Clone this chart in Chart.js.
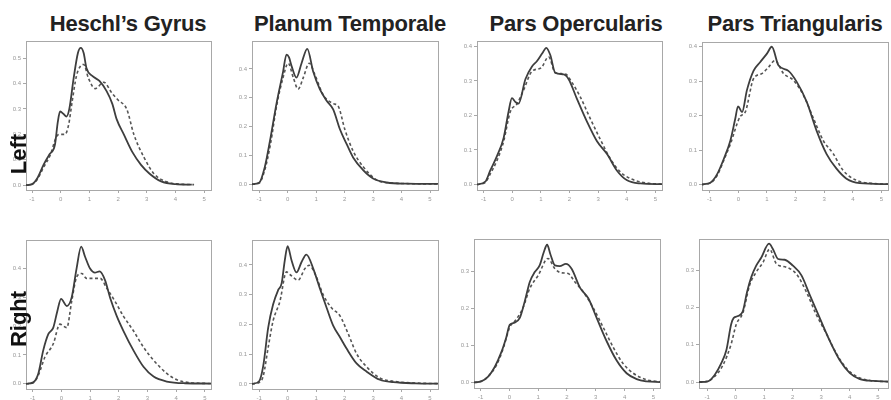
<!DOCTYPE html>
<html>
<head>
<meta charset="utf-8">
<script src="https://cdn.jsdelivr.net/npm/chart.js@4.4.1/dist/chart.umd.min.js"></script>
<style>
  body { margin: 0; background: #fff; }
  #wrap { position: relative; width: 891px; height: 400px; overflow: hidden; font-family: "Liberation Sans", Arial, sans-serif; }
  .panel { position: absolute; }
  .title { position: absolute; top: 13px; transform: translateX(-50%); font-size: 22px; line-height: 22px; font-weight: bold; color: #222; white-space: nowrap; letter-spacing: -0.2px; }
  .row { position: absolute; font-size: 22px; line-height: 22px; font-weight: bold; color: #111; white-space: nowrap; transform: translate(-50%, -50%) rotate(-90deg); z-index: 5; }
</style>
</head>
<body>
<div id="wrap"></div>
<script>
// density curves, [x, y] pairs
let hgLeftSolid = [[-1.21,0],[-1.0,0.004],[-0.8,0.03],[-0.6,0.08],[-0.4,0.12],[-0.2,0.16],[-0.1,0.25],[-0.02,0.29],[0.1,0.28],[0.2,0.27],[0.3,0.3],[0.45,0.42],[0.6,0.52],[0.7,0.54],[0.8,0.52],[0.9,0.46],[1.1,0.43],[1.35,0.41],[1.6,0.37],[1.8,0.32],[1.95,0.26],[2.2,0.2],[2.5,0.13],[2.8,0.08],[3.1,0.045],[3.5,0.015],[4.0,0.004],[4.57,0.002]];
let hgLeftDash = [[-1.21,0],[-1.0,0.003],[-0.83,0.02],[-0.6,0.07],[-0.36,0.12],[-0.15,0.19],[0.0,0.2],[0.15,0.2],[0.28,0.24],[0.4,0.33],[0.55,0.43],[0.7,0.47],[0.8,0.475],[0.97,0.42],[1.2,0.38],[1.5,0.405],[1.8,0.36],[2.0,0.335],[2.3,0.3],[2.55,0.2],[2.9,0.11],[3.25,0.045],[3.7,0.013],[4.2,0.004],[4.65,0.002]];

let planumLeftSolid = [[-1.25,0],[-1.0,0.005],[-0.8,0.06],[-0.62,0.15],[-0.39,0.28],[-0.16,0.39],[-0.04,0.45],[0.05,0.44],[0.14,0.41],[0.31,0.37],[0.49,0.42],[0.69,0.47],[0.9,0.39],[1.13,0.33],[1.37,0.29],[1.6,0.26],[1.84,0.19],[2.07,0.14],[2.3,0.093],[2.66,0.048],[3.0,0.02],[3.48,0.006],[4.2,0.002],[5.28,0.001]];
let planumLeftDash = [[-1.25,0],[-1.0,0.004],[-0.8,0.05],[-0.6,0.14],[-0.39,0.27],[-0.16,0.37],[0.02,0.42],[0.2,0.37],[0.37,0.33],[0.55,0.37],[0.76,0.42],[0.96,0.38],[1.25,0.31],[1.6,0.28],[1.78,0.27],[2.01,0.19],[2.3,0.115],[2.66,0.06],[3.13,0.015],[3.7,0.004],[5.28,0.001]];

let opercLeftSolid = [[-1.23,0],[-0.94,0.008],[-0.77,0.04],[-0.53,0.083],[-0.3,0.135],[-0.13,0.21],[-0.01,0.25],[0.1,0.24],[0.22,0.234],[0.46,0.305],[0.69,0.342],[0.86,0.357],[1.05,0.38],[1.19,0.396],[1.33,0.375],[1.5,0.324],[1.8,0.319],[1.97,0.305],[2.26,0.248],[2.61,0.182],[2.96,0.125],[3.31,0.088],[3.66,0.04],[4.01,0.012],[4.48,0.003],[5.23,0.001]];
let opercLeftDash = [[-1.23,0],[-0.94,0.006],[-0.77,0.03],[-0.53,0.07],[-0.3,0.125],[-0.07,0.21],[0.17,0.234],[0.4,0.274],[0.69,0.328],[1.01,0.338],[1.27,0.37],[1.5,0.324],[1.86,0.32],[2.09,0.295],[2.38,0.253],[2.73,0.19],[3.08,0.13],[3.43,0.074],[3.78,0.036],[4.13,0.017],[4.71,0.004],[5.23,0.001]];

let triLeftSolid = [[-1.27,0],[-0.98,0.005],[-0.74,0.03],[-0.51,0.074],[-0.28,0.127],[-0.11,0.19],[-0.01,0.227],[0.13,0.21],[0.3,0.274],[0.53,0.33],[0.76,0.355],[1.0,0.38],[1.17,0.4],[1.4,0.346],[1.75,0.33],[2.04,0.298],[2.39,0.24],[2.74,0.155],[3.08,0.089],[3.43,0.046],[3.78,0.017],[4.24,0.004],[5.23,0.001]];
let triLeftDash = [[-1.27,0],[-0.98,0.004],[-0.74,0.026],[-0.51,0.07],[-0.28,0.117],[0.07,0.198],[0.24,0.21],[0.53,0.307],[0.82,0.322],[1.05,0.34],[1.28,0.36],[1.58,0.322],[1.92,0.303],[2.27,0.26],[2.62,0.193],[2.97,0.127],[3.32,0.089],[3.66,0.041],[4.13,0.012],[4.71,0.003],[5.23,0.001]];

let hgRightSolid = [[-1.23,0],[-0.98,0.005],[-0.8,0.036],[-0.63,0.116],[-0.45,0.173],[-0.28,0.195],[-0.14,0.252],[-0.01,0.295],[0.19,0.27],[0.36,0.3],[0.53,0.4],[0.69,0.476],[0.83,0.44],[1.0,0.4],[1.17,0.386],[1.33,0.39],[1.52,0.36],[1.7,0.298],[1.93,0.235],[2.16,0.184],[2.51,0.116],[2.86,0.059],[3.21,0.025],[3.67,0.008],[4.3,0.002],[5.21,0.001]];
let hgRightDash = [[-1.23,0],[-0.98,0.004],[-0.8,0.03],[-0.57,0.093],[-0.28,0.139],[-0.05,0.207],[0.19,0.195],[0.36,0.286],[0.53,0.37],[0.71,0.383],[0.88,0.366],[1.35,0.366],[1.58,0.332],[1.87,0.286],[2.16,0.235],[2.51,0.184],[2.86,0.127],[3.21,0.082],[3.67,0.036],[4.02,0.014],[4.49,0.004],[5.21,0.001]];

let planumRightSolid = [[-1.25,0],[-1.0,0.009],[-0.86,0.058],[-0.68,0.19],[-0.51,0.267],[-0.33,0.316],[-0.21,0.338],[-0.1,0.415],[0.0,0.463],[0.14,0.415],[0.31,0.375],[0.49,0.41],[0.66,0.435],[0.9,0.388],[1.13,0.322],[1.37,0.256],[1.6,0.196],[1.84,0.157],[2.07,0.119],[2.42,0.069],[2.77,0.042],[3.24,0.014],[3.71,0.006],[4.5,0.002],[5.28,0.001]];
let planumRightDash = [[-1.25,0],[-1.0,0.005],[-0.86,0.025],[-0.68,0.124],[-0.51,0.212],[-0.27,0.278],[-0.04,0.377],[0.08,0.368],[0.37,0.349],[0.61,0.388],[0.76,0.399],[0.96,0.371],[1.25,0.3],[1.54,0.256],[1.84,0.229],[2.13,0.168],[2.42,0.102],[2.77,0.058],[3.24,0.02],[3.71,0.009],[4.5,0.003],[5.28,0.001]];

let opercRightSolid = [[-1.23,0],[-0.98,0.003],[-0.74,0.016],[-0.51,0.042],[-0.28,0.082],[-0.11,0.122],[0.01,0.156],[0.18,0.162],[0.36,0.175],[0.53,0.219],[0.71,0.273],[0.88,0.299],[1.05,0.317],[1.19,0.352],[1.31,0.373],[1.42,0.348],[1.58,0.317],[1.75,0.315],[1.96,0.321],[2.16,0.308],[2.45,0.257],[2.74,0.228],[3.03,0.175],[3.37,0.113],[3.72,0.06],[4.07,0.025],[4.42,0.009],[4.77,0.003],[5.23,0.001]];
let opercRightDash = [[-1.23,0],[-0.98,0.003],[-0.74,0.016],[-0.45,0.047],[-0.22,0.091],[0.01,0.149],[0.24,0.171],[0.47,0.202],[0.71,0.255],[1.0,0.29],[1.34,0.336],[1.58,0.308],[1.81,0.297],[2.04,0.295],[2.27,0.273],[2.56,0.246],[2.91,0.202],[3.26,0.149],[3.6,0.096],[3.95,0.051],[4.3,0.025],[4.77,0.007],[5.23,0.002]];

let triRightSolid = [[-1.29,0],[-0.98,0.002],[-0.74,0.019],[-0.51,0.05],[-0.33,0.085],[-0.16,0.155],[-0.07,0.172],[0.08,0.177],[0.25,0.19],[0.4,0.242],[0.55,0.282],[0.72,0.312],[0.9,0.334],[1.17,0.371],[1.31,0.356],[1.49,0.33],[1.72,0.328],[2.01,0.312],[2.31,0.286],[2.6,0.234],[2.95,0.172],[3.3,0.111],[3.65,0.059],[4.01,0.024],[4.36,0.008],[4.83,0.003],[5.35,0.001]];
let triRightDash = [[-1.29,0],[-0.98,0.002],[-0.74,0.015],[-0.45,0.045],[-0.16,0.102],[0.02,0.155],[0.25,0.185],[0.49,0.26],[0.72,0.295],[0.96,0.321],[1.19,0.356],[1.43,0.317],[1.78,0.308],[2.13,0.29],[2.48,0.242],[2.83,0.181],[3.19,0.129],[3.54,0.076],[3.89,0.037],[4.25,0.015],[4.71,0.004],[5.35,0.001]];

// tick labels
let xTicks = [-1, 0, 1, 2, 3, 4, 5];
let yTicks5 = [0, 0.1, 0.2, 0.3, 0.4, 0.5];
let yTicks4 = [0, 0.1, 0.2, 0.3, 0.4];
let yTicks3 = [0, 0.1, 0.2, 0.3];

let titles = ["Heschl\u2019s Gyrus", "Planum Temporale", "Pars Opercularis", "Pars Triangularis"];
let rows = ["Left", "Right"];

// box = plot frame in page pixels [left, top, right, bottom]
let panels = [
  {solid: hgLeftSolid, dash: hgLeftDash, box: [26, 39, 211, 190], xr: [-1.21, 5.24], yr: [-0.019, 0.565], yt: yTicks5},
  {solid: planumLeftSolid, dash: planumLeftDash, box: [252, 39, 438, 190], xr: [-1.25, 5.28], yr: [-0.02, 0.495], yt: yTicks4},
  {solid: opercLeftSolid, dash: opercLeftDash, box: [477, 39, 662, 190], xr: [-1.23, 5.23], yr: [-0.016, 0.414], yt: yTicks4},
  {solid: triLeftSolid, dash: triLeftDash, box: [702, 40, 888, 190], xr: [-1.27, 5.23], yr: [-0.016, 0.412], yt: yTicks4},
  {solid: hgRightSolid, dash: hgRightDash, box: [26, 238, 211, 389], xr: [-1.23, 5.21], yr: [-0.018, 0.497], yt: yTicks4},
  {solid: planumRightSolid, dash: planumRightDash, box: [252, 238, 438, 389], xr: [-1.25, 5.28], yr: [-0.017, 0.482], yt: yTicks4},
  {solid: opercRightSolid, dash: opercRightDash, box: [474, 237, 660, 388], xr: [-1.23, 5.23], yr: [-0.015, 0.387], yt: yTicks3},
  {solid: triRightSolid, dash: triRightDash, box: [699, 237, 888, 388], xr: [-1.29, 5.35], yr: [-0.016, 0.382], yt: yTicks3}
];

let wrap = document.getElementById('wrap');
let padL = 24, padT = 3, padR = 3, padB = 14;
let frame = '#a8a8a8';
let tickFont = {family: 'Liberation Sans', size: 6};

for (let p of panels) {
  let [l, t, r, b] = p.box;
  let div = document.createElement('div');
  div.className = 'panel';
  div.style.left = (l - padL) + 'px';
  div.style.top = (t - padT) + 'px';
  div.style.width = (r - l + padL + padR) + 'px';
  div.style.height = (b - t + padT + padB) + 'px';
  let cv = document.createElement('canvas');
  div.appendChild(cv);
  wrap.appendChild(div);

  new Chart(cv, {
    type: 'line',
    data: {
      datasets: [{
        data: p.solid.map(d => ({x: d[0], y: d[1]})),
        borderColor: '#3e3e3e',
        borderWidth: 1.8,
        pointRadius: 0,
        cubicInterpolationMode: 'monotone',
        fill: false
      }, {
        data: p.dash.map(d => ({x: d[0], y: d[1]})),
        borderColor: '#555',
        borderWidth: 1.6,
        borderDash: [3, 2.5],
        pointRadius: 0,
        cubicInterpolationMode: 'monotone',
        fill: false
      }]
    },
    options: {
      responsive: true,
      maintainAspectRatio: false,
      animation: false,
      events: [],
      layout: {padding: {left: 0, top: padT, right: padR, bottom: 0}},
      plugins: {legend: {display: false}, tooltip: {enabled: false}},
      scales: {
        x: {
          type: 'linear', min: p.xr[0], max: p.xr[1],
          afterBuildTicks: s => { s.ticks = xTicks.map(v => ({value: v})); },
          afterFit: s => { s.height = padB; },
          ticks: {font: tickFont, color: '#999', padding: 3, maxRotation: 0, callback: v => String(v)},
          grid: {drawOnChartArea: false, tickLength: 3, color: frame},
          border: {color: frame, width: 1}
        },
        y: {
          type: 'linear', min: p.yr[0], max: p.yr[1],
          afterBuildTicks: s => { s.ticks = p.yt.map(v => ({value: v})); },
          afterFit: s => { s.width = padL; },
          ticks: {font: tickFont, color: '#999', padding: 2, callback: v => v.toFixed(1)},
          grid: {drawOnChartArea: false, tickLength: 3, color: frame},
          border: {color: frame, width: 1}
        },
        x2: {
          type: 'linear', position: 'top', min: p.xr[0], max: p.xr[1],
          afterFit: s => { s.height = 0; },
          ticks: {display: false},
          grid: {display: false},
          border: {color: frame, width: 1}
        },
        y2: {
          type: 'linear', position: 'right', min: p.yr[0], max: p.yr[1],
          afterFit: s => { s.width = 0; },
          ticks: {display: false},
          grid: {display: false},
          border: {color: frame, width: 1}
        }
      }
    }
  });
}

// column titles and row labels
let titleX = [128, 350, 576, 795];
titles.forEach((txt, i) => {
  let d = document.createElement('div');
  d.className = 'title';
  d.style.left = titleX[i] + 'px';
  d.textContent = txt;
  wrap.appendChild(d);
});
let rowY = [154, 319];
rows.forEach((txt, i) => {
  let d = document.createElement('div');
  d.className = 'row';
  d.style.left = '19px';
  d.style.top = rowY[i] + 'px';
  d.textContent = txt;
  wrap.appendChild(d);
});
</script>
</body>
</html>
